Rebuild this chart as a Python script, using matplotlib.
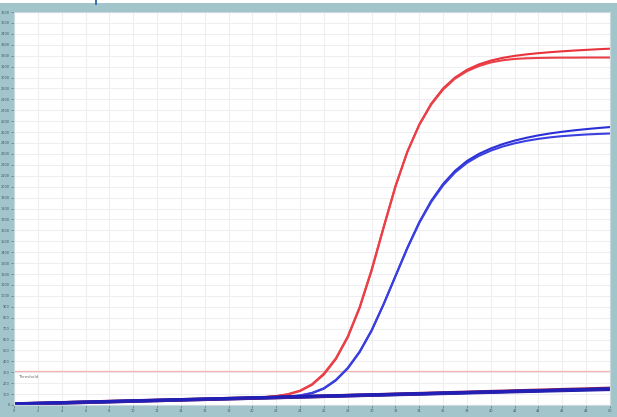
import numpy as np
import matplotlib.pyplot as plt
from matplotlib.patches import Rectangle

# amplification plot - cycles vs fluorescence
cycles = list(range(0, 51))

red_a = [10, 12, 15, 18, 20, 23, 26, 28, 31, 34, 37, 40, 42, 45, 48, 51, 54, 57, 60, 63,
         66, 71, 80, 97, 128, 185, 280, 420, 620, 890, 1230, 1620, 2000, 2320, 2570, 2760,
         2900, 3000, 3070, 3120, 3155, 3180, 3198, 3212, 3223, 3232, 3240, 3247, 3253, 3259, 3264]
red_b = [11, 13, 15, 17, 21, 23, 25, 29, 31, 34, 36, 39, 43, 45, 48, 50, 54, 56, 60, 63,
         67, 72, 82, 100, 132, 190, 288, 428, 628, 898, 1240, 1628, 2005, 2320, 2565, 2752,
         2890, 2990, 3058, 3105, 3138, 3158, 3170, 3176, 3179, 3181, 3182, 3182, 3183, 3183, 3183]
blue_a = [10, 12, 15, 18, 20, 23, 26, 28, 31, 34, 37, 40, 42, 45, 48, 51, 54, 57, 60, 63,
          66, 69, 72, 77, 86, 108, 150, 225, 335, 485, 680, 920, 1180, 1440, 1675, 1870,
          2025, 2145, 2235, 2300, 2350, 2390, 2422, 2448, 2470, 2488, 2503, 2516, 2527, 2537, 2546]
blue_b = [11, 13, 14, 17, 21, 24, 25, 28, 32, 34, 36, 39, 43, 46, 48, 50, 53, 57, 61, 63,
          66, 70, 73, 78, 88, 111, 154, 230, 340, 490, 685, 922, 1180, 1436, 1668, 1860,
          2012, 2130, 2218, 2282, 2330, 2368, 2397, 2420, 2438, 2452, 2463, 2471, 2478, 2483, 2487]

neg_cycles = [0, 5, 10, 15, 20, 25, 30, 35, 40, 45, 50]
neg_blue_a = [8, 22, 36, 50, 63, 77, 91, 104, 118, 131, 144]
neg_blue_b = [10, 24, 37, 51, 65, 79, 92, 106, 120, 134, 148]
neg_red_a = [9, 23, 37, 50, 64, 78, 92, 107, 122, 137, 152]
neg_red_b = [7, 21, 35, 49, 62, 76, 90, 104, 119, 133, 147]

threshold = 312

frame = '#a2c4cb'
fig = plt.figure(figsize=(6.17, 4.17), dpi=100, facecolor=frame)
# white strip on top edge and small marker
fig.patches.append(Rectangle((0, 1 - 3/417), 1, 3/417, transform=fig.transFigure,
                             facecolor='white', edgecolor='none', zorder=5))
fig.patches.append(Rectangle((95/617, 1 - 5/417), 2/617, 5/417, transform=fig.transFigure,
                             facecolor='#3a6fb5', edgecolor='none', zorder=6))

ax = fig.add_axes([14/617, 12/417, 596/617, 393/417])
ax.set_facecolor('white')
ax.set_xlim(0, 50)
ax.set_ylim(0, 3600)

ax.set_xticks(np.arange(0, 51, 2))
ax.set_yticks(np.arange(0, 3601, 100))
ax.grid(True, color='#eeedf0', lw=0.8, ls='-')
ax.set_axisbelow(True)
ax.tick_params(axis='both', length=2, width=0.5, color='#5a7d86', pad=1,
               labelsize=2.5, labelcolor='#3d5a63')
ax.set_yticklabels(['%d' % v for v in np.arange(0, 3601, 100)])
for s in ax.spines.values():
    s.set_color('#c8d8dc')
    s.set_linewidth(0.8)

ax.axhline(threshold, color='#f3b3b3', lw=0.9)
ax.text(0.3, threshold - 40, 'Threshold', fontsize=3, color='#707070', va='top')

style = dict(lw=1.5, solid_joinstyle='round', solid_capstyle='round')
ax.plot(cycles, red_a, color='#e8323c', **style)
ax.plot(cycles, red_b, color='#ea4048', **style)
ax.plot(cycles, blue_a, color='#2a2fd6', **style)
ax.plot(cycles, blue_b, color='#3a3fe0', **style)

ax.plot(neg_cycles, neg_red_a, color='#a0204a', lw=2.6)
ax.plot(neg_cycles, neg_blue_a, color='#1c1ca8', lw=2.6)
ax.plot(neg_cycles, neg_red_b, color='#c02850', lw=1.6)
ax.plot(neg_cycles, neg_blue_b, color='#2020b8', lw=2.2)

fig.savefig('out.png', dpi=100, facecolor=frame)
